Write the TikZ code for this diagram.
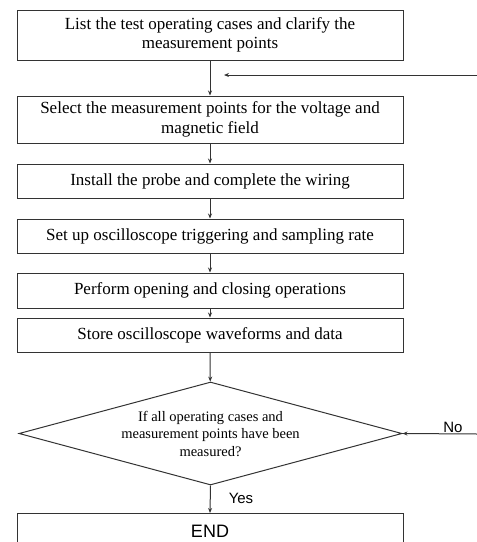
\documentclass[tikz,border=0pt]{standalone}
\usepackage{fontspec}
\setmainfont{Liberation Serif}
\newfontfamily\arialf{Liberation Sans}
\usetikzlibrary{arrows.meta,shapes.geometric}
\begin{document}
\begin{tikzpicture}[x=1pt,y=-1pt,
  line width=1pt,
  stepbox/.style={draw=black!80,rectangle,minimum width=386pt,inner sep=0pt,align=center,font=\fontsize{17}{19.5}\selectfont},
  arr/.style={draw=black!80,-{Stealth[length=5pt,width=4pt]}},
  lab/.style={font=\arialf\fontsize{15}{17}\selectfont}]
\useasboundingbox (0,0) rectangle (477,542);
\node[stepbox,minimum height=50pt] (b1) at (210,35) {List the test operating cases and clarify the\\measurement points};
\node[stepbox,minimum height=47pt] (b2) at (210,119.5) {Select the measurement points for the voltage and\\magnetic field};
\node[stepbox,minimum height=34pt] (b3) at (210,181) {Install the probe and complete the wiring};
\node[stepbox,minimum height=34pt] (b4) at (210,236) {Set up oscilloscope triggering and sampling rate};
\node[stepbox,minimum height=35pt] (b5) at (210,290.5) {Perform opening and closing operations};
\node[stepbox,minimum height=34pt] (b6) at (210,335) {Store oscilloscope waveforms and data};
\node[draw=black!80,diamond,aspect=3.72,inner sep=0pt,minimum width=383pt,minimum height=103pt,align=center,font=\fontsize{14.5}{17.5}\selectfont] (d) at (210.5,433.5) {If all operating cases and\\measurement points have been\\measured?};
\node[draw=black!80,rectangle,minimum width=386pt,minimum height=40pt,inner sep=0pt,anchor=north] (e) at (210,513) {};
\node[font=\arialf\fontsize{18}{20}\selectfont] (et) at (210,531) {END};
\coordinate (r1) at (477,75);
\coordinate (l1) at (224,75);
\coordinate (r2) at (477,434);
\draw[arr] (b1) -- (b2);
\draw[arr] (r1) -- (l1);
\draw[arr] (b2) -- (b3);
\draw[arr] (b3) -- (b4);
\draw[arr] (b4) -- (b5);
\draw[arr] (b5) -- (b6);
\draw[arr] (b6) -- (d);
\draw[arr] (r2) -- (d.east);
\draw[arr] (d.south) -- (e.north);
\node[lab] (no) at (453,427) {No};
\node[lab] (yes) at (241,498) {Yes};
\end{tikzpicture}
\end{document}
